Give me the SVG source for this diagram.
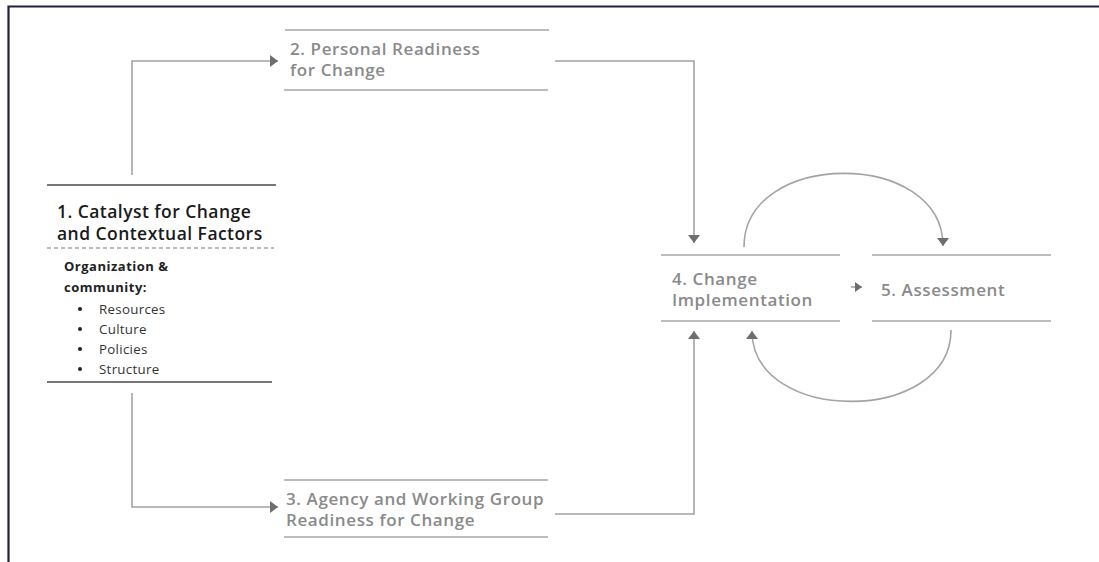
<svg xmlns="http://www.w3.org/2000/svg" width="1099" height="562" viewBox="0 0 1099 562">
<defs>
<marker id="ah" viewBox="0 0 8 12" refX="8" refY="6" markerWidth="8" markerHeight="12" markerUnits="userSpaceOnUse" orient="auto">
<path d="M0,0 L8,6 L0,12 z" fill="#6e6e6e"/>
</marker>
<marker id="ahs" viewBox="0 0 7 10" refX="7" refY="5" markerWidth="7" markerHeight="10" markerUnits="userSpaceOnUse" orient="auto">
<path d="M0,0 L7,5 L0,10 z" fill="#6e6e6e"/>
</marker>
<style>
.frame{fill:none;stroke:#241e42;stroke-width:2.2}
.rule{stroke:#a6a6a6;stroke-width:1.5}
.rule1{stroke:#4a4a4a;stroke-width:1.3}
.dash{stroke:#777;stroke-width:1.1;stroke-dasharray:4,3}
.conn{fill:none;stroke:#a3a3a3;stroke-width:1.6}
.t{font-family:"Open Sans",Lato,sans-serif;font-weight:600;font-size:17px;letter-spacing:0.6px;fill:#8a8a8a}
.t1{font-family:"Open Sans",Lato,sans-serif;font-weight:600;font-size:17.5px;letter-spacing:0.45px;fill:#1a1a1a}
.sub{font-family:"Open Sans",Lato,sans-serif;font-weight:700;font-size:13px;letter-spacing:0.5px;fill:#222}
.li{font-family:"Open Sans",Lato,sans-serif;font-weight:400;font-size:13.3px;letter-spacing:0.3px;fill:#333}
</style>
</defs>
<rect width="1099" height="562" fill="#ffffff"/>
<path class="frame" d="M8.5,562 V6.5 H1099"/>
<g id="connectors">
<path class="conn" d="M132,175 V61 H278" marker-end="url(#ah)"/>
<path class="conn" d="M132,393 V507 H278" marker-end="url(#ah)"/>
<path class="conn" d="M555,61 H694 V243" marker-end="url(#ah)"/>
<path class="conn" d="M555,514 H694 V331" marker-end="url(#ah)"/>
<path class="conn" d="M851,287 H862" marker-end="url(#ahs)"/>
<path class="conn" d="M744,247 C744,149 943,149 943,246" marker-end="url(#ah)"/>
<path class="conn" d="M951,330 C951,425 752,425 752,331" marker-end="url(#ah)"/>
</g>
<g id="node1">
<line class="rule1" x1="47" y1="185" x2="276" y2="185"/>
<text class="t1" x="57" y="218">1. Catalyst for Change</text>
<text class="t1" x="57" y="240">and Contextual Factors</text>
<line class="dash" x1="47" y1="248" x2="274" y2="248"/>
<text class="sub" x="64" y="271">Organization &amp;</text>
<text class="sub" x="64" y="292">community:</text>
<circle cx="80" cy="309" r="2" fill="#222"/>
<text class="li" x="99" y="314">Resources</text>
<circle cx="80" cy="329" r="2" fill="#222"/>
<text class="li" x="99" y="334">Culture</text>
<circle cx="80" cy="349" r="2" fill="#222"/>
<text class="li" x="99" y="354">Policies</text>
<circle cx="80" cy="369" r="2" fill="#222"/>
<text class="li" x="99" y="374">Structure</text>
<line class="rule1" x1="47" y1="382" x2="272" y2="382"/>
</g>
<g id="node2">
<line class="rule" x1="285" y1="30" x2="549" y2="30"/>
<text class="t" x="290" y="55">2. Personal Readiness</text>
<text class="t" x="290" y="76">for Change</text>
<line class="rule" x1="284" y1="90" x2="548" y2="90"/>
</g>
<g id="node3">
<line class="rule" x1="284" y1="480" x2="548" y2="480"/>
<text class="t" x="286" y="505">3. Agency and Working Group</text>
<text class="t" x="286" y="526">Readiness for Change</text>
<line class="rule" x1="284" y1="537" x2="548" y2="537"/>
</g>
<g id="node4">
<line class="rule" x1="661" y1="255" x2="840" y2="255"/>
<text class="t" x="672" y="285">4. Change</text>
<text class="t" x="672" y="306">Implementation</text>
<line class="rule" x1="661" y1="321" x2="840" y2="321"/>
</g>
<g id="node5">
<line class="rule" x1="872" y1="255" x2="1051" y2="255"/>
<text class="t" x="881" y="296">5. Assessment</text>
<line class="rule" x1="872" y1="321" x2="1051" y2="321"/>
</g>
</svg>
